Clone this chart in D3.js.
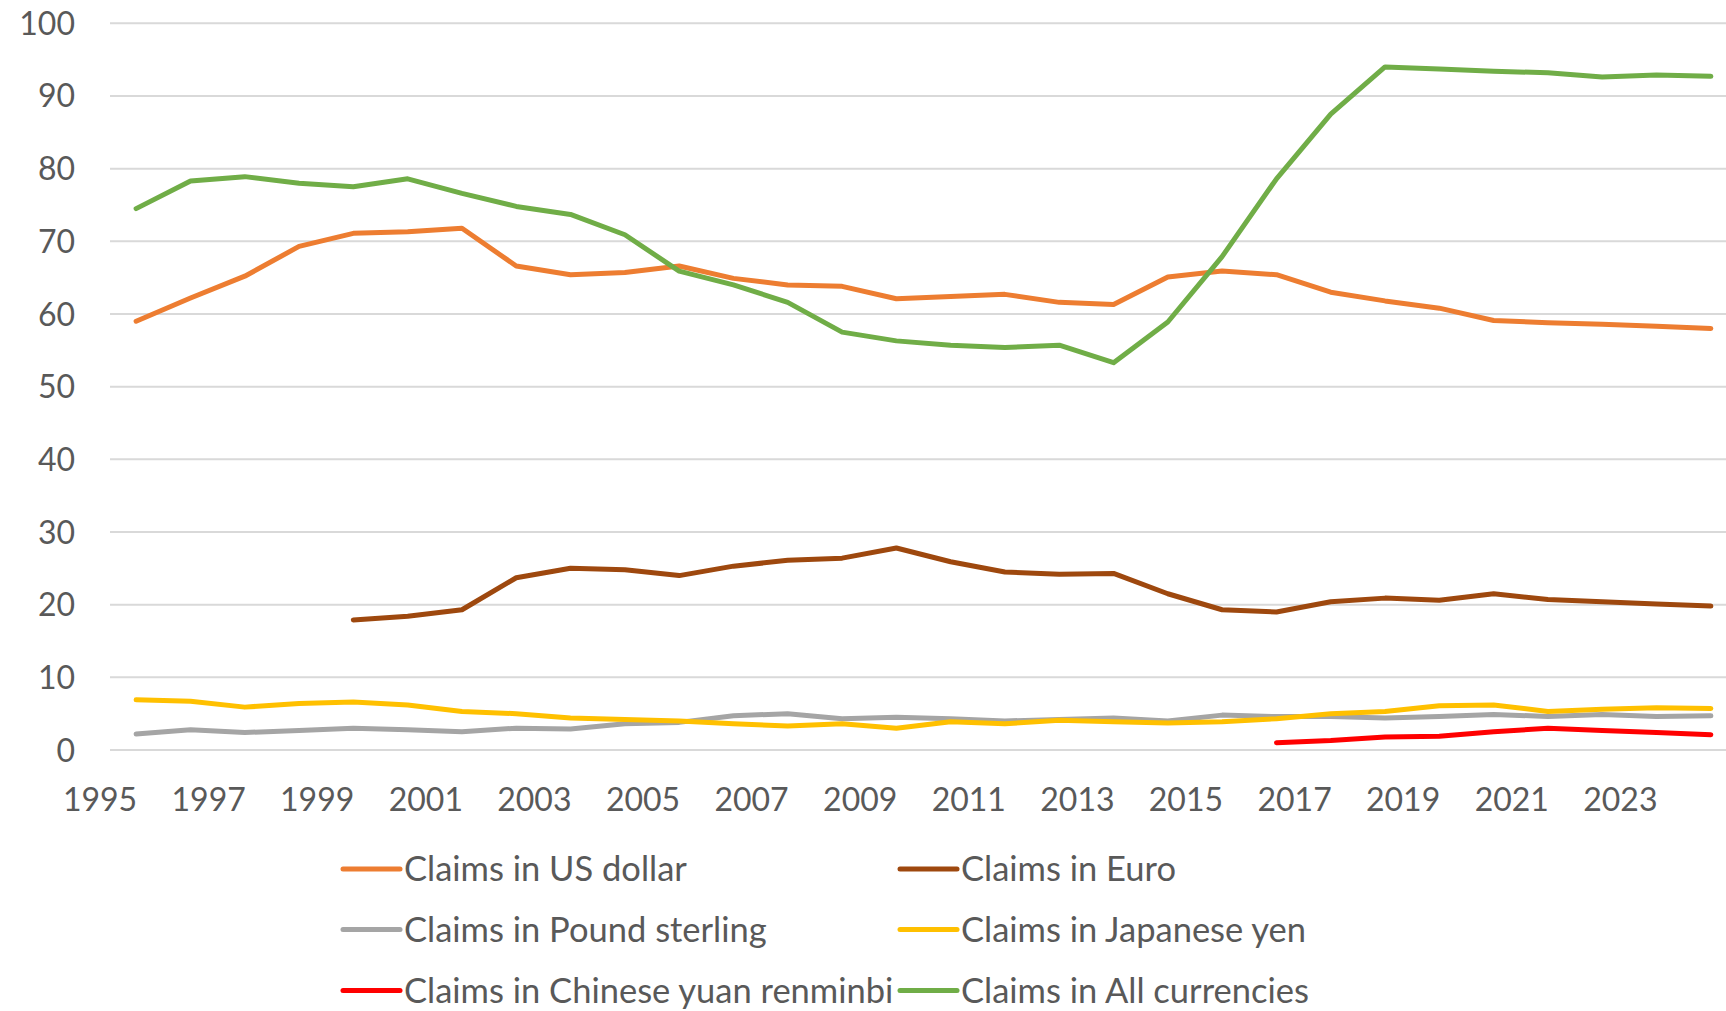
<!DOCTYPE html>
<html>
<head>
<meta charset="utf-8">
<script src="https://cdn.jsdelivr.net/npm/d3@7"></script>
<style>
  body { margin: 0; background: #fff; }
  text { font-family: Lato, "Open Sans", sans-serif; fill: #595959; }
</style>
</head>
<body>
<script>
// share of claims, percent, one value per year (null = no data)
var years = [1995, 1996, 1997, 1998, 1999, 2000, 2001, 2002, 2003, 2004,
             2005, 2006, 2007, 2008, 2009, 2010, 2011, 2012, 2013, 2014,
             2015, 2016, 2017, 2018, 2019, 2020, 2021, 2022, 2023, 2024];

var usDollar = [59.0, 62.2, 65.2, 69.3, 71.1, 71.3, 71.8, 66.6, 65.4, 65.7,
                66.6, 64.9, 64.0, 63.8, 62.1, 62.4, 62.7, 61.6, 61.3, 65.1,
                65.9, 65.4, 63.0, 61.8, 60.8, 59.1, 58.8, 58.6, 58.3, 58.0];
var euro = [null, null, null, null, 17.9, 18.4, 19.3, 23.7, 25.0, 24.8,
            24.0, 25.3, 26.1, 26.4, 27.8, 25.9, 24.5, 24.2, 24.3, 21.5,
            19.3, 19.0, 20.4, 20.9, 20.6, 21.5, 20.7, 20.4, 20.1, 19.8];
var poundSterling = [2.2, 2.8, 2.4, 2.7, 3.0, 2.8, 2.5, 3.0, 2.9, 3.6,
                     3.8, 4.7, 5.0, 4.3, 4.5, 4.3, 4.0, 4.2, 4.4, 4.0,
                     4.8, 4.6, 4.6, 4.4, 4.6, 4.9, 4.6, 4.9, 4.6, 4.7];
var japaneseYen = [6.9, 6.7, 5.9, 6.4, 6.6, 6.2, 5.3, 5.0, 4.4, 4.2,
                   4.0, 3.6, 3.3, 3.6, 3.0, 3.9, 3.6, 4.1, 3.9, 3.7,
                   3.9, 4.3, 5.0, 5.3, 6.1, 6.2, 5.3, 5.6, 5.8, 5.7];
var yuanRenminbi = [null, null, null, null, null, null, null, null, null, null,
                    null, null, null, null, null, null, null, null, null, null,
                    null, 1.0, 1.3, 1.8, 1.9, 2.5, 3.0, 2.7, 2.4, 2.1];
var allCurrencies = [74.5, 78.3, 78.9, 78.0, 77.5, 78.6, 76.6, 74.8, 73.7, 70.9,
                     65.9, 64.0, 61.6, 57.5, 56.3, 55.7, 55.4, 55.7, 53.3, 58.9,
                     67.9, 78.6, 87.5, 94.0, 93.7, 93.4, 93.2, 92.6, 92.9, 92.7];

var seriesNames = ["Claims in US dollar", "Claims in Euro", "Claims in Pound sterling",
                   "Claims in Japanese yen", "Claims in Chinese yuan renminbi", "Claims in All currencies"];
var seriesColors = ["#ED7D31", "#9E480E", "#A5A5A5", "#FFC000", "#FF0000", "#70AD47"];
var seriesValues = [usDollar, euro, poundSterling, japaneseYen, yuanRenminbi, allCurrencies];

var yTicks = [0, 10, 20, 30, 40, 50, 60, 70, 80, 90, 100];
var xTickYears = [1995, 1997, 1999, 2001, 2003, 2005, 2007, 2009, 2011, 2013,
                  2015, 2017, 2019, 2021, 2023];

var width = 1726, height = 1011;
var svg = d3.select("body").append("svg")
  .attr("width", width)
  .attr("height", height);

// date axis: labels sit on 1 January, observations are dated 1 September
var x = d3.scaleTime()
  .domain([new Date(1995, 0, 1), new Date(2025, 0, 1)])
  .range([100, 1729]);
var y = d3.scaleLinear()
  .domain([0, 100])
  .range([750, 23.3]);

var plotLeft = 110, plotRight = width;

// gridlines
svg.append("g").selectAll("line")
  .data(yTicks)
  .enter().append("line")
  .attr("x1", plotLeft)
  .attr("x2", plotRight)
  .attr("y1", function(d) { return y(d) })
  .attr("y2", function(d) { return y(d) })
  .style("stroke", "#d9d9d9")
  .style("stroke-width", 2);

// y labels
svg.append("g").selectAll("text")
  .data(yTicks)
  .enter().append("text")
  .attr("x", 75)
  .attr("y", function(d) { return y(d) })
  .attr("dy", "0.36em")
  .attr("text-anchor", "end")
  .style("font-size", "32px")
  .text(function(d) { return d });

// x labels
svg.append("g").selectAll("text")
  .data(xTickYears)
  .enter().append("text")
  .attr("x", function(d) { return x(new Date(d, 0, 1)) })
  .attr("y", 799)
  .attr("dy", "0.36em")
  .attr("text-anchor", "middle")
  .style("font-size", "32px")
  .text(function(d) { return d });

var line = d3.line()
  .defined(function(d) { return d.v != null })
  .x(function(d) { return x(new Date(d.year, 8, 1)) })
  .y(function(d) { return y(d.v) });

seriesValues.forEach(function(vals, i) {
  var pts = years.map(function(yr, j) { return {year: yr, v: vals[j]} });
  svg.append("path")
    .datum(pts)
    .attr("d", line)
    .style("fill", "none")
    .style("stroke", seriesColors[i])
    .style("stroke-width", 5)
    .style("stroke-linecap", "round")
    .style("stroke-linejoin", "round");
});

// legend, two columns, three rows
var legendCols = [343, 900];
var legendRows = [869, 929.5, 990.5];
var legend = svg.append("g").selectAll("g")
  .data(seriesNames)
  .enter().append("g")
  .attr("transform", function(d, i) {
    return "translate(" + legendCols[i % 2] + "," + legendRows[Math.floor(i / 2)] + ")";
  });

legend.append("line")
  .attr("x1", 0)
  .attr("x2", 57)
  .style("stroke", function(d, i) { return seriesColors[i] })
  .style("stroke-width", 5)
  .style("stroke-linecap", "round");

legend.append("text")
  .attr("x", 61)
  .attr("dy", "0.36em")
  .style("font-size", "34.5px")
  .text(function(d) { return d });
</script>
</body>
</html>
